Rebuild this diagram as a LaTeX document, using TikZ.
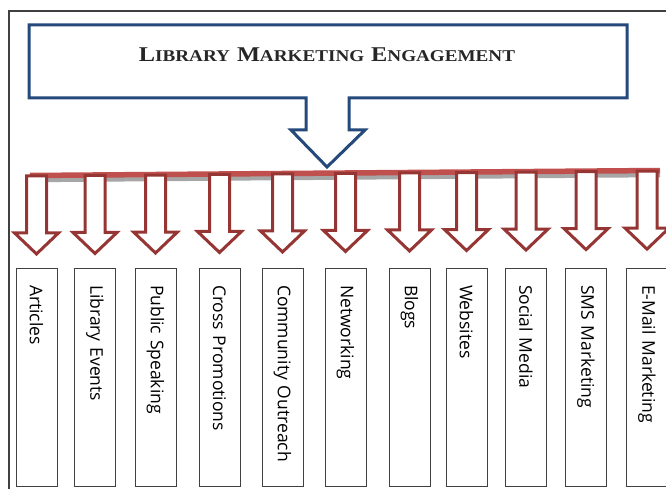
\documentclass[tikz,border=0pt]{standalone}
\usepackage{fontspec}
\setsansfont{Open Sans}
\newfontfamily\titlefont{Liberation Serif}[FakeStretch=1.16]
\definecolor{calloutblue}{HTML}{24497A}
\definecolor{barred}{HTML}{C0504D}
\definecolor{arrowred}{HTML}{963634}
\definecolor{framegray}{HTML}{404040}
\definecolor{shadowgray}{HTML}{A6A6A6}
\definecolor{titleink}{HTML}{262626}
% fake small caps: large initial, smaller remaining capitals
\newcommand{\initcap}[1]{{\fontsize{21}{21}\selectfont #1}}
\newcommand{\restcaps}[1]{{\fontsize{16.5}{16}\selectfont #1}}
\newcommand{\wordgap}{\hspace{7pt}}
\begin{document}
\begin{tikzpicture}[x=1pt,y=-1pt,
  frameline/.style={draw=framegray, line width=1.1pt},
  calloutshape/.style={draw=calloutblue, line width=3pt, line join=miter, fill=white},
  titletext/.style={text=titleink, font=\titlefont\bfseries, inner sep=0pt},
  bartop/.style={draw=barred, line width=5.5pt},
  barshadow/.style={draw=shadowgray, line width=5.5pt},
  blockarrow/.style={draw=arrowred, line width=3pt, line join=miter, fill=white},
  itembox/.style={draw=framegray, line width=0.9pt, rotate=-90,
    minimum width=218pt, minimum height=41pt, text width=184pt,
    inner xsep=17pt, inner ysep=0pt, align=left, text=black,
    font=\sffamily\fontsize{17.5}{17.5}\selectfont}]
\useasboundingbox (0,0) rectangle (666,489);

% outer frame
\draw[frameline] (9,495) -- (9,11) -- (672,11);

% title callout with its downward pointer
\draw[calloutshape] (29,25) -- (627,25) -- (627,98) -- (349,98) -- (349,130)
  -- (365,130) -- (327,167) -- (291,130) -- (306,130) -- (306,98) -- (29,98) -- cycle;
\node[titletext] (title) at (327,55)
  {\initcap{L}\restcaps{IBRARY}\wordgap\initcap{M}\restcaps{ARKETING}\wordgap\initcap{E}\restcaps{NGAGEMENT}};

% distribution bar
\coordinate (barL) at (30,175.5);
\coordinate (barR) at (660,170.5);
\draw[barshadow] ([yshift=-4pt]barL) -- ([yshift=-4pt]barR);
\draw[bartop] (barL) -- (barR);

% one block arrow and one box per channel
\foreach \cx/\name/\lab in {36.5/b1/Articles, 95/b2/Library Events,
    155.5/b3/Public Speaking, 219.5/b4/Cross Promotions,
    282.5/b5/Community Outreach, 345.5/b6/Networking, 409.5/b7/Blogs,
    466.5/b8/Websites, 526/b9/Social Media, 586/b10/SMS Marketing,
    647/b11/E-Mail Marketing}{
  \pgfmathsetmacro\t{176-5*(\cx-30)/630}
  \node[itembox] (\name) at (\cx,377) {\lab};
  \draw[blockarrow] (\cx-10,\t) -- (\cx+10,\t) -- (\cx+10,\t+57) -- (\cx+22,\t+57)
    -- (\cx,\t+78) -- (\cx-22,\t+57) -- (\cx-10,\t+57) -- cycle;
}
\end{tikzpicture}
\end{document}
